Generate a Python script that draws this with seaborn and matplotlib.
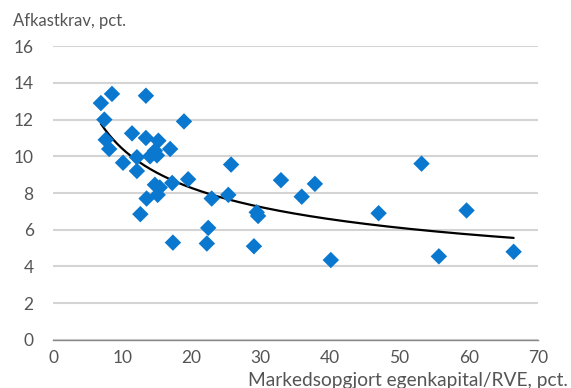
import numpy as np
import pandas as pd
import matplotlib
matplotlib.use("Agg")
import matplotlib.pyplot as plt
import seaborn as sns

# ── Data ──────────────────────────────────────────────────────────────────
equity_rve = [6.9, 8.5, 7.4, 7.6, 8.1, 13.4, 18.9, 11.4, 13.4, 10.1,
              12.1, 12.1, 14.0, 14.7, 15.0, 15.2, 16.9, 12.6, 13.5, 14.7,
              15.4, 15.1, 17.2, 19.5, 17.3, 22.4, 22.2, 22.9, 25.3, 25.7,
              29.4, 29.6, 29.0, 32.9, 35.9, 37.8, 40.1, 47.0, 53.2, 55.7,
              59.7, 66.5]
required_return = [12.9, 13.4, 12.0, 10.9, 10.4, 13.3, 11.9, 11.25, 11.0, 9.65,
                   9.2, 9.95, 10.0, 10.3, 10.05, 10.85, 10.4, 6.85, 7.7, 8.45,
                   8.3, 7.9, 8.55, 8.75, 5.3, 6.1, 5.25, 7.7, 7.9, 9.55,
                   6.95, 6.75, 5.1, 8.7, 7.8, 8.5, 4.35, 6.9, 9.6, 4.55,
                   7.05, 4.8]

x_ticks = [0, 10, 20, 30, 40, 50, 60, 70]
y_ticks = [0, 2, 4, 6, 8, 10, 12, 14, 16]

df = pd.DataFrame({"x": equity_rve, "y": required_return})

# power trendline (Excel style: least squares in log-log)
b, log_a = np.polyfit(np.log(df["x"]), np.log(df["y"]), 1)
fit_x = np.linspace(df["x"].min(), df["x"].max(), 200)
fit = pd.DataFrame({"x": fit_x, "y": np.exp(log_a) * fit_x ** b})

# ── Plot ──────────────────────────────────────────────────────────────────
sns.set_style("white")
plt.rcParams["font.family"] = ["Lato", "DejaVu Sans"]
text_col = "#555555"

fig = plt.figure(figsize=(5.71, 3.88), dpi=100)
ax = fig.add_axes([0.093, 0.124, 0.849, 0.757])

sns.lineplot(data=fit, x="x", y="y", color="black", linewidth=1.6, ax=ax, zorder=3)
sns.scatterplot(data=df, x="x", y="y", marker="D", s=70, color="#0A78CF",
                edgecolor="none", ax=ax, zorder=4)

ax.set_xlim(0, 70)
ax.set_ylim(0, 16)
ax.set_xticks(x_ticks)
ax.set_yticks(y_ticks)
ax.yaxis.grid(True, color="#d4d4d4", linewidth=1.5)
ax.set_axisbelow(True)
for s in ["top", "right", "left"]:
    ax.spines[s].set_visible(False)
ax.spines["bottom"].set_color("#888888")
ax.spines["bottom"].set_linewidth(1.0)
ax.tick_params(axis="x", direction="in", length=4, width=1, color="#888888",
               labelsize=12.5, labelcolor=text_col, pad=7)
ax.tick_params(axis="y", length=0, labelsize=12.5, labelcolor=text_col, pad=14)
ax.set_xlabel("")
ax.set_ylabel("")

fig.text(0.022, 0.945, "Afkastkrav, pct.", fontsize=12, color=text_col,
         ha="left", va="center")
fig.text(0.995, 0.005, "Markedsopgjort egenkapital/RVE, pct.", fontsize=13.8,
         color=text_col, ha="right", va="baseline")

fig.savefig("out.png", dpi=100)
